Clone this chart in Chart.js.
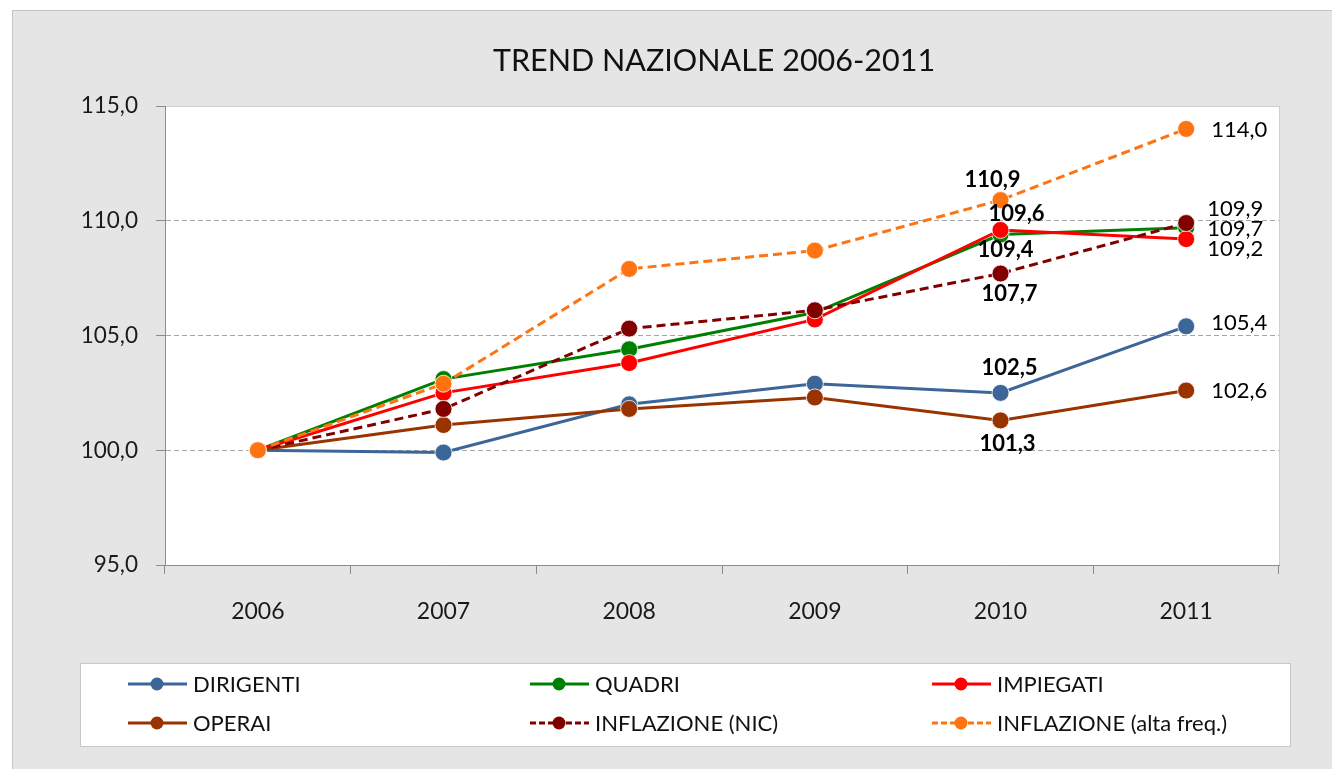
<!DOCTYPE html>
<html>
<head>
<meta charset="utf-8">
<script src="https://cdn.jsdelivr.net/npm/chart.js@4.4.0/dist/chart.umd.min.js"></script>
<style>
  html, body { margin: 0; padding: 0; background: #fff; }
  #wrap { position: relative; width: 1332px; height: 769px; }
</style>
</head>
<body>
<div id="wrap"><canvas id="trendChart"></canvas></div>
<script>
// dati (indice 2006 = 100)
const anni = ['2006', '2007', '2008', '2009', '2010', '2011'];
const dirigenti = [100.0, 99.9, 102.0, 102.9, 102.5, 105.4];
const quadri = [100.0, 103.1, 104.4, 106.0, 109.4, 109.7];
const impiegati = [100.0, 102.5, 103.8, 105.7, 109.6, 109.2];
const operai = [100.0, 101.1, 101.8, 102.3, 101.3, 102.6];
const inflazioneNic = [100.0, 101.8, 105.3, 106.1, 107.7, 109.9];
const inflazioneAlta = [100.0, 102.9, 107.9, 108.7, 110.9, 114.0];
const yTicks = [95, 100, 105, 110, 115];

const serie = [
    { label: 'DIRIGENTI', data: dirigenti, color: '#3c6698', dash: [] },
    { label: 'QUADRI', data: quadri, color: '#008000', dash: [] },
    { label: 'IMPIEGATI', data: impiegati, color: '#ff0000', dash: [] },
    { label: 'OPERAI', data: operai, color: '#993300', dash: [] },
    { label: 'INFLAZIONE (NIC)', data: inflazioneNic, color: '#800000', dash: [9, 5] },
    { label: 'INFLAZIONE (alta freq.)', data: inflazioneAlta, color: '#ff7411', dash: [9, 5] }
];

// etichette dei valori: [serie, punto, dx, dy, grassetto, allineamento]
const etichette = [
    [5, 4, -8, -20, true, 'center'],
    [2, 4, 16, -16, true, 'center'],
    [1, 4, 5, 15, true, 'center'],
    [4, 4, 9, 20, true, 'center'],
    [0, 4, 9, -25, true, 'center'],
    [3, 4, 7, 23, true, 'center'],
    [5, 5, 25, 1, false, 'left'],
    [4, 5, 21, -14, false, 'left'],
    [1, 5, 21, 1, false, 'left'],
    [2, 5, 21, 10, false, 'left'],
    [0, 5, 25, -3, false, 'left'],
    [3, 5, 25, 0, false, 'left']
];

const fmt = v => v.toFixed(1).replace('.', ',');

const sfondo = {
    id: 'sfondo',
    beforeDraw(chart) {
        const ctx = chart.ctx;
        const a = chart.chartArea;
        ctx.save();
        ctx.fillStyle = '#ffffff';
        ctx.fillRect(0, 0, chart.width, chart.height);
        ctx.fillStyle = '#e5e5e5';
        ctx.fillRect(12, 10, chart.width, chart.height);
        ctx.strokeStyle = '#c4c4c4';
        ctx.lineWidth = 1;
        ctx.strokeRect(12.5, 10.5, chart.width, chart.height);
        ctx.fillStyle = '#ffffff';
        ctx.fillRect(a.left, a.top, a.right - a.left, a.bottom - a.top);
        ctx.strokeStyle = '#cfcfcf';
        ctx.strokeRect(a.left + 0.5, a.top + 0.5, a.right - a.left, a.bottom - a.top);
        ctx.fillStyle = '#111111';
        ctx.font = '30.5px Lato';
        ctx.textAlign = 'center';
        ctx.textBaseline = 'middle';
        ctx.fillText('TREND NAZIONALE 2006-2011', 714, 61);
        ctx.restore();
    }
};

const valori = {
    id: 'valori',
    afterDatasetsDraw(chart) {
        const ctx = chart.ctx;
        ctx.save();
        ctx.fillStyle = '#000000';
        ctx.textBaseline = 'middle';
        etichette.forEach(([di, pi, dx, dy, bold, align]) => {
            const p = chart.getDatasetMeta(di).data[pi];
            ctx.font = (bold ? 'bold ' : '') + '22px Lato';
            ctx.textAlign = align;
            ctx.fillText(fmt(chart.data.datasets[di].data[pi]), p.x + dx, p.y + dy);
        });
        ctx.restore();
    }
};

const legenda = {
    id: 'legenda',
    afterDraw(chart) {
        const ctx = chart.ctx;
        ctx.save();
        ctx.fillStyle = '#ffffff';
        ctx.fillRect(80, 663, 1210, 83);
        ctx.strokeStyle = '#c8c8c8';
        ctx.lineWidth = 1;
        ctx.strokeRect(80.5, 663.5, 1210, 83);
        chart.data.datasets.forEach((ds, i) => {
            const x0 = 128 + (i % 3) * 402;
            const y = 684 + Math.floor(i / 3) * 39;
            ctx.strokeStyle = ds.borderColor;
            ctx.lineWidth = 3;
            ctx.setLineDash(ds.borderDash.length ? [6, 3] : []);
            ctx.beginPath();
            ctx.moveTo(x0, y);
            ctx.lineTo(x0 + 59, y);
            ctx.stroke();
            ctx.setLineDash([]);
            ctx.fillStyle = ds.borderColor;
            ctx.beginPath();
            ctx.arc(x0 + 29, y, 6.5, 0, Math.PI * 2);
            ctx.fill();
            ctx.fillStyle = '#111111';
            ctx.font = '22px Lato';
            ctx.textAlign = 'left';
            ctx.textBaseline = 'middle';
            ctx.fillText(ds.label, x0 + 65, y + 1);
        });
        ctx.restore();
    }
};

new Chart(document.getElementById('trendChart'), {
    type: 'line',
    data: {
        labels: anni,
        datasets: serie.map((s, i) => ({
            label: s.label,
            data: s.data,
            borderColor: s.color,
            backgroundColor: s.color,
            borderDash: s.dash,
            borderWidth: 3,
            tension: 0,
            fill: false,
            pointRadius: 8.5,
            pointHoverRadius: 8.5,
            pointBackgroundColor: s.color,
            pointBorderColor: 'rgba(255,255,255,0.8)',
            pointBorderWidth: 1,
            order: serie.length - i
        }))
    },
    options: {
        responsive: true,
        maintainAspectRatio: false,
        animation: false,
        layout: { padding: { top: 106, right: 53, left: 0, bottom: 0 } },
        plugins: {
            legend: { display: false },
            title: { display: false },
            tooltip: { enabled: false }
        },
        scales: {
            x: {
                offset: true,
                afterFit: s => { s.height = 204; },
                grid: { drawOnChartArea: false, offset: true, tickLength: 9, tickColor: '#8c8c8c' },
                border: { color: '#8c8c8c' },
                ticks: { font: { family: 'Lato', size: 23 }, color: '#1a1a1a', padding: 24, maxRotation: 0 }
            },
            y: {
                min: 95,
                max: 115,
                afterBuildTicks: s => { s.ticks = yTicks.map(v => ({ value: v })); },
                afterFit: s => { s.width = 165; },
                grid: {
                    color: c => (c.tick && (c.tick.value === 95 || c.tick.value === 115)) ? 'rgba(0,0,0,0)' : '#a6a6a6',
                    tickLength: 9,
                    tickColor: '#8c8c8c'
                },
                border: { color: '#8c8c8c', dash: [5, 3] },
                ticks: {
                    font: { family: 'Lato', size: 22.5 },
                    color: '#1a1a1a',
                    padding: 18,
                    callback: v => fmt(v)
                }
            }
        }
    },
    plugins: [sfondo, valori, legenda]
});
</script>
</body>
</html>
